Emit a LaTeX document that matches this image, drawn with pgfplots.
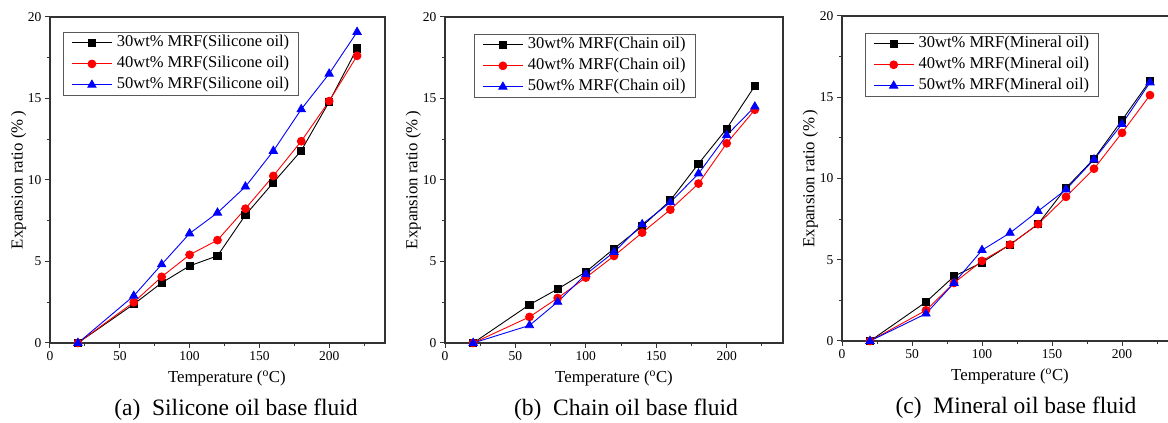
\documentclass[border=0pt]{standalone}
\usepackage{fontspec}
\setmainfont{Liberation Serif}
\usepackage{pgfplots}
\pgfplotsset{compat=1.18}

\pgfplotsset{
  mrf/.style={
    anchor=south west, scale only axis, width=335pt, height=326pt,
    xmin=0, xmax=240, ymin=0, ymax=20, clip=false,
    xtick={0,50,...,200}, ytick={0,5,...,20},
    minor xtick={25,75,...,225}, minor ytick={2.5,7.5,12.5,17.5},
    tick align=outside, xtick pos=left, ytick pos=left,
    major tick length=5pt, minor tick length=3pt,
    axis line style={line width=1.2pt, black!80},
    every tick/.style={black!80, line width=1pt},
    tick label style={font=\fontsize{13.5}{15}\selectfont},
    /pgf/number format/assume math mode=true,
    label style={font=\fontsize{16.8}{18}\selectfont},
    xlabel={Temperature (\textsuperscript{o}C)},
    ylabel={Expansion ratio (\%\,)},
    x label style={at={(axis description cs:0.5,-0.1227)}, anchor=base},
    y label style={at={(axis description cs:-0.094,0.5)}, anchor=center},
    legend cell align=left,
    legend style={font=\fontsize{16.5}{18}\selectfont, draw=black!65,
      line width=0.8pt, anchor=north west, inner xsep=8pt, inner ysep=0pt,
      column sep=3pt,
      nodes={inner xsep=1.5pt, inner ysep=2pt, text height=12.5pt, text depth=4.5pt}},
    legend image code/.code={
      \draw[mark repeat=2, mark phase=2] plot coordinates {(0pt,0pt) (20pt,0pt) (40pt,0pt)};},
  },
  s30/.style={black, line width=0.9pt, mark=square*, mark size=3.6pt, mark options={solid}},
  s40/.style={red, line width=0.9pt, mark=*, mark size=3.9pt},
  s50/.style={blue, line width=0.9pt, mark=triangle*, mark size=4.7pt},
}

\begin{document}
\begin{tikzpicture}
\useasboundingbox (0pt,0pt) rectangle (1168pt,423pt);
\clip (0pt,0pt) rectangle (1168pt,423pt);
\begin{pgfinterruptboundingbox}

% (a) silicone oil
\begin{axis}[mrf, name=a, at={(50pt,80pt)},
  x label style={at={(axis description cs:0.528,-0.1227)}},
  legend style={at={(axis description cs:0.039,0.954)}}]
\addplot[s30] coordinates {(20,0) (60,2.38) (80,3.69) (100,4.73) (120,5.35) (140,7.85) (160,9.84) (180,11.8) (200,14.8) (220,18.07)};
\addlegendentry{30wt\% MRF(Silicone oil)}
\addplot[s40] coordinates {(20,0) (60,2.5) (80,4.06) (100,5.41) (120,6.31) (140,8.24) (160,10.25) (180,12.38) (200,14.84) (220,17.62)};
\addlegendentry{40wt\% MRF(Silicone oil)}
\addplot[s50] coordinates {(20,0) (60,2.89) (80,4.82) (100,6.72) (120,7.99) (140,9.59) (160,11.78) (180,14.34) (200,16.52) (220,19.08)};
\addlegendentry{50wt\% MRF(Silicone oil)}
\end{axis}
\node[anchor=base, font=\fontsize{23.5}{25}\selectfont] at ([shift={(186pt,-73pt)}]a.south west) {(a)\enspace Silicone oil base fluid};

% (b) chain oil
\begin{axis}[mrf, name=b, at={(445pt,80pt)}, width=338pt,
  legend style={at={(axis description cs:0.086,0.948)}}]
\addplot[s30] coordinates {(20,0) (60,2.35) (80,3.31) (100,4.36) (120,5.79) (140,7.16) (160,8.75) (180,11.0) (200,13.15) (220,15.77)};
\addlegendentry{30wt\% MRF(Chain oil)}
\addplot[s40] coordinates {(20,0) (60,1.6) (80,2.76) (100,4.01) (120,5.34) (140,6.77) (160,8.18) (180,9.78) (200,12.25) (220,14.31)};
\addlegendentry{40wt\% MRF(Chain oil)}
\addplot[s50] coordinates {(20,0) (60,1.08) (80,2.52) (100,4.21) (120,5.58) (140,7.28) (160,8.63) (180,10.39) (200,12.74) (220,14.5)};
\addlegendentry{50wt\% MRF(Chain oil)}
\end{axis}
\node[anchor=base, font=\fontsize{23.5}{25}\selectfont] at ([shift={(181pt,-73pt)}]b.south west) {(b)\enspace Chain oil base fluid};

% (c) mineral oil
\begin{axis}[mrf, name=c, at={(842pt,82pt)}, width=336pt, height=325pt,
  legend style={at={(axis description cs:0.068,0.948)}}]
\addplot[s30] coordinates {(20,0) (60,2.4) (80,3.98) (100,4.83) (120,5.93) (140,7.19) (160,9.42) (180,11.21) (200,13.59) (220,16.02)};
\addlegendentry{30wt\% MRF(Mineral oil)}
\addplot[s40] coordinates {(20,0) (60,1.89) (80,3.57) (100,4.93) (120,5.93) (140,7.19) (160,8.87) (180,10.6) (200,12.81) (220,15.13)};
\addlegendentry{40wt\% MRF(Mineral oil)}
\addplot[s50] coordinates {(20,0) (60,1.68) (80,3.57) (100,5.59) (120,6.65) (140,7.99) (160,9.32) (180,11.17) (200,13.35) (220,15.91)};
\addlegendentry{50wt\% MRF(Mineral oil)}
\end{axis}
\node[anchor=base, font=\fontsize{23.5}{25}\selectfont] at ([shift={(174pt,-73pt)}]c.south west) {(c)\enspace Mineral oil base fluid};

\end{pgfinterruptboundingbox}
\end{tikzpicture}
\end{document}
